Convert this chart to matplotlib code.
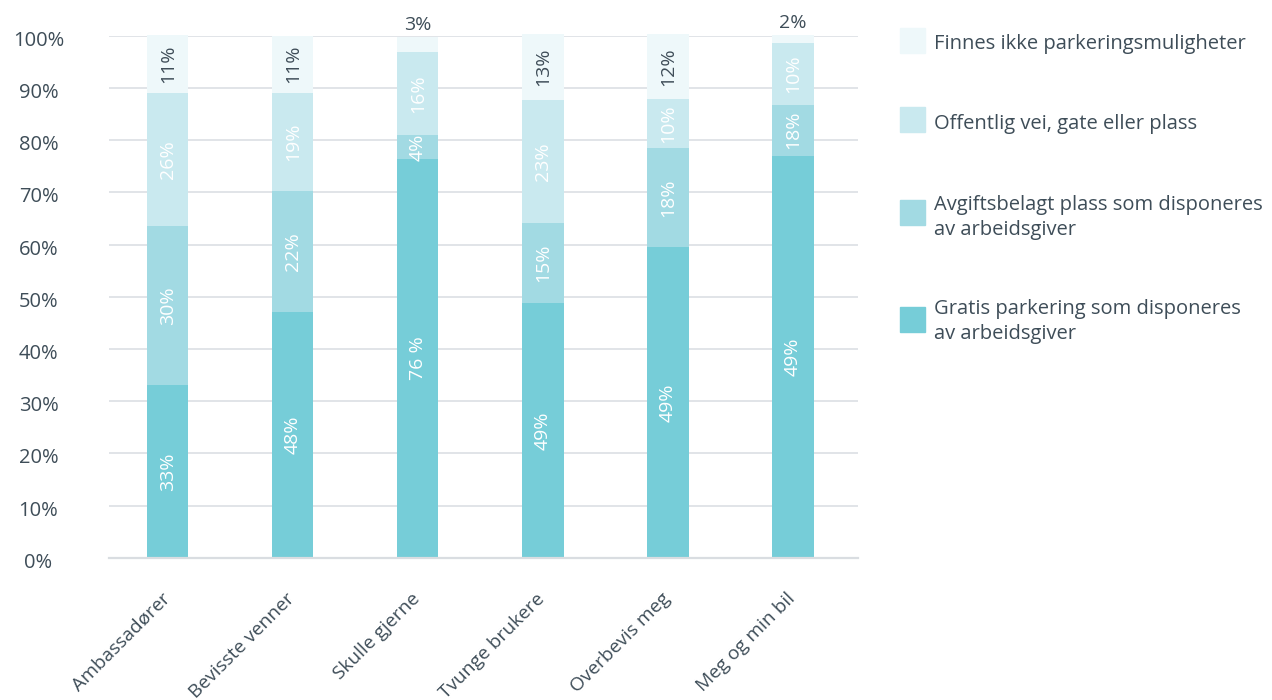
import matplotlib.pyplot as plt
from matplotlib.patches import Rectangle
from matplotlib.transforms import ScaledTranslation
import numpy as np

plt.rcParams['font.family'] = ['Open Sans', 'DejaVu Sans']

categories = ['Ambassadører', 'Bevisste venner', 'Skulle gjerne',
              'Tvunge brukere', 'Overbevis meg', 'Meg og min bil']

# bar heights as drawn (percent)
gratis = [33.1, 47.1, 76.4, 48.8, 59.5, 77.0]
avgift = [30.5, 23.2, 4.6, 15.3, 19.0, 9.8]
offentlig = [25.5, 18.8, 15.9, 23.5, 9.4, 11.8]
finnes = [11.1, 10.9, 2.9, 12.8, 12.5, 1.6]

# value labels as printed in the chart
gratis_lbl = ['33%', '48%', '76 %', '49%', '49%', '49%']
avgift_lbl = ['30%', '22%', '4%', '15%', '18%', '18%']
offentlig_lbl = ['26%', '19%', '16%', '23%', '10%', '10%']
finnes_lbl = ['11%', '11%', '3%', '13%', '12%', '2%']

series_names = ['Gratis parkering som disponeres\nav arbeidsgiver',
                'Avgiftsbelagt plass som disponeres\nav arbeidsgiver',
                'Offentlig vei, gate eller plass',
                'Finnes ikke parkeringsmuligheter']

colors = ['#76cdd8', '#a2dae3', '#c9e9ef', '#eef8fa']
text_dark = '#3e4d58'
grid_col = '#d9dde1'

fig = plt.figure(figsize=(12.72, 7.0), dpi=100)
ax = fig.add_axes([109 / 1272, 1 - 557.7 / 700, 749 / 1272, 522 / 700])

x = np.arange(len(categories))
width = 0.33
values = [gratis, avgift, offentlig, finnes]
labels = [gratis_lbl, avgift_lbl, offentlig_lbl, finnes_lbl]

bottom = np.zeros(len(categories))
for i, (vals, lbls) in enumerate(zip(values, labels)):
    vals = np.array(vals)
    ax.bar(x, vals, width, bottom=bottom, color=colors[i], clip_on=False, zorder=2)
    for j in range(len(categories)):
        if i == 3 and vals[j] < 5:
            ax.annotate(lbls[j], (x[j], bottom[j] + vals[j]), xytext=(0, 2),
                        textcoords='offset points', ha='center', va='bottom',
                        fontsize=14, color=text_dark, annotation_clip=False)
        else:
            col = text_dark if i == 3 else 'white'
            ax.text(x[j], bottom[j] + vals[j] / 2, lbls[j], rotation=90,
                    ha='center', va='center', fontsize=14, color=col, zorder=3)
    bottom += vals

ax.set_xlim(-0.47, 5.52)
ax.set_ylim(0, 100)
ax.set_yticks(np.arange(0, 101, 10))
ax.set_yticklabels([f'{v}%' for v in range(0, 101, 10)])
ax.yaxis.grid(True, color=grid_col, linewidth=1.1)
ax.set_axisbelow(True)
for s in ['top', 'right', 'left']:
    ax.spines[s].set_visible(False)
ax.spines['bottom'].set_color(grid_col)
ax.spines['bottom'].set_linewidth(1.6)
ax.tick_params(axis='y', length=0, pad=50.8, labelsize=14.5, labelcolor=text_dark)
ydown = ScaledTranslation(0, -5 / 100, fig.dpi_scale_trans)
for t in ax.get_yticklabels():
    t.set_ha('center')
    t.set_va('center')
    t.set_transform(t.get_transform() + ydown)

ax.set_xticks(x)
ax.set_xticklabels(categories, rotation=45, ha='right', va='top',
                   rotation_mode='anchor', fontsize=13.8, color=text_dark)
ax.tick_params(axis='x', length=0, pad=23)
xleft = ScaledTranslation(-7 / 100, 0, fig.dpi_scale_trans)
for t in ax.get_xticklabels():
    t.set_transform(t.get_transform() + xleft)

# legend drawn at the right, top entry first
box_tops = [28, 107, 200, 307]
text_tops = [34, 114, 195, 299]
for k, name in enumerate(series_names[::-1]):
    col = colors[::-1][k]
    fig.add_artist(Rectangle((900 / 1272, 1 - (box_tops[k] + 25) / 700), 25 / 1272, 25 / 700,
                             transform=fig.transFigure, color=col))
    fig.text(934 / 1272, 1 - text_tops[k] / 700, name, ha='left', va='top',
             fontsize=14.5, color=text_dark, linespacing=1.3)

fig.savefig('out.png', dpi=100)
